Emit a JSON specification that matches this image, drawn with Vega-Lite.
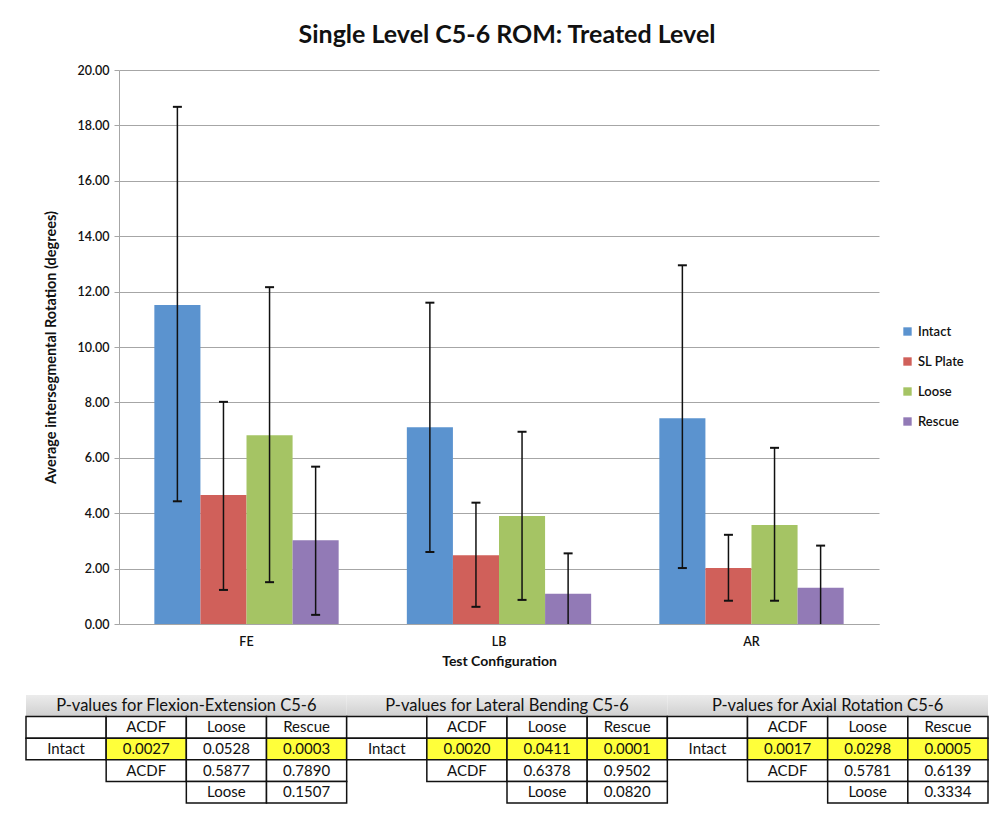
{
  "$schema": "https://vega.github.io/schema/vega-lite/v6.json",
  "background": "white",
  "padding": {"left": 25, "top": 23, "right": 3, "bottom": 5},
  "title": {"text": "Single Level C5-6 ROM: Treated Level", "fontSize": 25, "font": "Lato", "fontWeight": "bold", "anchor": "middle", "offset": 16, "color": "#111111"},
  "config": {"font": "Lato", "view": {"stroke": null}},
  "spacing": 26,
  "resolve": {"scale": {"xOffset": "independent", "x": "independent", "y": "independent"}},
  "datasets": {
    "bars": [
      {"test": "FE", "condition": "Intact", "mean": 11.52, "lo": 4.43, "hi": 18.67},
      {"test": "FE", "condition": "SL Plate", "mean": 4.66, "lo": 1.23, "hi": 8.02},
      {"test": "FE", "condition": "Loose", "mean": 6.81, "lo": 1.51, "hi": 12.16},
      {"test": "FE", "condition": "Rescue", "mean": 3.02, "lo": 0.33, "hi": 5.68},
      {"test": "LB", "condition": "Intact", "mean": 7.10, "lo": 2.60, "hi": 11.60},
      {"test": "LB", "condition": "SL Plate", "mean": 2.48, "lo": 0.62, "hi": 4.38},
      {"test": "LB", "condition": "Loose", "mean": 3.90, "lo": 0.87, "hi": 6.94},
      {"test": "LB", "condition": "Rescue", "mean": 1.09, "lo": -0.37, "hi": 2.55},
      {"test": "AR", "condition": "Intact", "mean": 7.43, "lo": 2.02, "hi": 12.95},
      {"test": "AR", "condition": "SL Plate", "mean": 2.02, "lo": 0.84, "hi": 3.22},
      {"test": "AR", "condition": "Loose", "mean": 3.57, "lo": 0.84, "hi": 6.36},
      {"test": "AR", "condition": "Rescue", "mean": 1.31, "lo": -0.21, "hi": 2.83}
    ],
    "headers": [
      {"table": "Flexion-Extension", "row": "r0", "title": "P-values for Flexion-Extension C5-6"},
      {"table": "Lateral Bending", "row": "r0", "title": "P-values for Lateral Bending C5-6"},
      {"table": "Axial Rotation", "row": "r0", "title": "P-values for Axial Rotation C5-6"}
    ],
    "cells": [
      {"table": "Flexion-Extension", "row": "r1", "col": "c0", "text": "", "sig": "no"},
      {"table": "Flexion-Extension", "row": "r1", "col": "c1", "text": "ACDF", "sig": "no"},
      {"table": "Flexion-Extension", "row": "r1", "col": "c2", "text": "Loose", "sig": "no"},
      {"table": "Flexion-Extension", "row": "r1", "col": "c3", "text": "Rescue", "sig": "no"},
      {"table": "Flexion-Extension", "row": "r2", "col": "c0", "text": "Intact", "sig": "no"},
      {"table": "Flexion-Extension", "row": "r2", "col": "c1", "text": "0.0027", "sig": "yes"},
      {"table": "Flexion-Extension", "row": "r2", "col": "c2", "text": "0.0528", "sig": "no"},
      {"table": "Flexion-Extension", "row": "r2", "col": "c3", "text": "0.0003", "sig": "yes"},
      {"table": "Flexion-Extension", "row": "r3", "col": "c1", "text": "ACDF", "sig": "no"},
      {"table": "Flexion-Extension", "row": "r3", "col": "c2", "text": "0.5877", "sig": "no"},
      {"table": "Flexion-Extension", "row": "r3", "col": "c3", "text": "0.7890", "sig": "no"},
      {"table": "Flexion-Extension", "row": "r4", "col": "c2", "text": "Loose", "sig": "no"},
      {"table": "Flexion-Extension", "row": "r4", "col": "c3", "text": "0.1507", "sig": "no"},
      {"table": "Lateral Bending", "row": "r1", "col": "c0", "text": "", "sig": "no"},
      {"table": "Lateral Bending", "row": "r1", "col": "c1", "text": "ACDF", "sig": "no"},
      {"table": "Lateral Bending", "row": "r1", "col": "c2", "text": "Loose", "sig": "no"},
      {"table": "Lateral Bending", "row": "r1", "col": "c3", "text": "Rescue", "sig": "no"},
      {"table": "Lateral Bending", "row": "r2", "col": "c0", "text": "Intact", "sig": "no"},
      {"table": "Lateral Bending", "row": "r2", "col": "c1", "text": "0.0020", "sig": "yes"},
      {"table": "Lateral Bending", "row": "r2", "col": "c2", "text": "0.0411", "sig": "yes"},
      {"table": "Lateral Bending", "row": "r2", "col": "c3", "text": "0.0001", "sig": "yes"},
      {"table": "Lateral Bending", "row": "r3", "col": "c1", "text": "ACDF", "sig": "no"},
      {"table": "Lateral Bending", "row": "r3", "col": "c2", "text": "0.6378", "sig": "no"},
      {"table": "Lateral Bending", "row": "r3", "col": "c3", "text": "0.9502", "sig": "no"},
      {"table": "Lateral Bending", "row": "r4", "col": "c2", "text": "Loose", "sig": "no"},
      {"table": "Lateral Bending", "row": "r4", "col": "c3", "text": "0.0820", "sig": "no"},
      {"table": "Axial Rotation", "row": "r1", "col": "c0", "text": "", "sig": "no"},
      {"table": "Axial Rotation", "row": "r1", "col": "c1", "text": "ACDF", "sig": "no"},
      {"table": "Axial Rotation", "row": "r1", "col": "c2", "text": "Loose", "sig": "no"},
      {"table": "Axial Rotation", "row": "r1", "col": "c3", "text": "Rescue", "sig": "no"},
      {"table": "Axial Rotation", "row": "r2", "col": "c0", "text": "Intact", "sig": "no"},
      {"table": "Axial Rotation", "row": "r2", "col": "c1", "text": "0.0017", "sig": "yes"},
      {"table": "Axial Rotation", "row": "r2", "col": "c2", "text": "0.0298", "sig": "yes"},
      {"table": "Axial Rotation", "row": "r2", "col": "c3", "text": "0.0005", "sig": "yes"},
      {"table": "Axial Rotation", "row": "r3", "col": "c1", "text": "ACDF", "sig": "no"},
      {"table": "Axial Rotation", "row": "r3", "col": "c2", "text": "0.5781", "sig": "no"},
      {"table": "Axial Rotation", "row": "r3", "col": "c3", "text": "0.6139", "sig": "no"},
      {"table": "Axial Rotation", "row": "r4", "col": "c2", "text": "Loose", "sig": "no"},
      {"table": "Axial Rotation", "row": "r4", "col": "c3", "text": "0.3334", "sig": "no"}
    ]
  },
  "vconcat": [
    {
      "width": 760,
      "height": 554,
      "data": {"name": "bars"},
      "encoding": {
        "x": {"field": "test", "type": "nominal", "sort": ["FE", "LB", "AR"],
              "scale": {"domain": ["FE", "LB", "AR"], "paddingInner": 0.27, "paddingOuter": 0.14},
              "axis": {"title": "Test Configuration", "titleFontWeight": "bold", "titleFontSize": 14, "titleColor": "#111111", "titlePadding": 7,
                       "labelFontSize": 12.5, "labelFontWeight": 600, "labelColor": "#111111", "labelAngle": 0, "labelPadding": 11, "ticks": false, "domainColor": "#a6a6a6"}},
        "xOffset": {"field": "condition", "type": "nominal", "sort": ["Intact", "SL Plate", "Loose", "Rescue"],
                    "scale": {"domain": ["Intact", "SL Plate", "Loose", "Rescue"], "paddingInner": 0, "paddingOuter": 0}}
      },
      "layer": [
        {
          "mark": {"type": "bar"},
          "encoding": {
            "y": {"field": "mean", "type": "quantitative", "scale": {"domain": [0, 20], "nice": false},
                  "title": "Average intersegmental Rotation (degrees)",
                  "axis": {"values": [0, 2, 4, 6, 8, 10, 12, 14, 16, 18, 20], "format": ".2f", "labelFontSize": 12.5, "labelFontWeight": 600, "labelColor": "#111111",
                           "tickColor": "#a6a6a6", "tickSize": 5, "domainColor": "#a6a6a6", "gridColor": "#a6a6a6", "gridOpacity": 1,
                           "titleFontSize": 14.5, "titleFontWeight": "bold", "titleColor": "#111111", "titlePadding": 19, "labelPadding": 5}},
            "color": {"field": "condition", "type": "nominal",
                      "scale": {"domain": ["Intact", "SL Plate", "Loose", "Rescue"], "range": ["#5b93cf", "#d0605a", "#a5c464", "#927ab6"]},
                      "legend": {"title": null, "orient": "none", "legendX": 782, "legendY": 255, "symbolType": "square", "symbolSize": 70,
                                 "labelFontSize": 13, "labelFontWeight": 600, "labelColor": "#111111", "rowPadding": 16, "labelOffset": 4}}
          }
        },
        {
          "mark": {"type": "rule", "clip": true, "strokeWidth": 1.5, "color": "#111111"},
          "encoding": {
            "y": {"field": "lo", "type": "quantitative", "title": "Average intersegmental Rotation (degrees)"},
            "y2": {"field": "hi"}
          }
        },
        {
          "mark": {"type": "tick", "color": "#111111", "size": 9, "thickness": 2, "opacity": 1},
          "encoding": {
            "y": {"field": "hi", "type": "quantitative", "title": "Average intersegmental Rotation (degrees)"}
          }
        },
        {
          "mark": {"type": "tick", "clip": true, "color": "#111111", "size": 9, "thickness": 2, "opacity": 1},
          "encoding": {
            "y": {"field": "lo", "type": "quantitative", "title": "Average intersegmental Rotation (degrees)"}
          }
        }
      ]
    },
    {
      "width": 760,
      "height": 108,
      "encoding": {
        "x": {"field": "table", "type": "nominal", "sort": ["Flexion-Extension", "Lateral Bending", "Axial Rotation"],
              "scale": {"domain": ["Flexion-Extension", "Lateral Bending", "Axial Rotation"], "range": [-93, 869], "paddingInner": 0, "paddingOuter": 0}, "axis": null},
        "y": {"field": "row", "type": "nominal", "sort": ["r0", "r1", "r2", "r3", "r4"],
              "scale": {"domain": ["r0", "r1", "r2", "r3", "r4"], "paddingInner": 0, "paddingOuter": 0}, "axis": null}
      },
      "layer": [
        {
          "data": {"name": "headers"},
          "mark": {"type": "rect", "fill": {"gradient": "linear", "x1": 0, "y1": 0, "x2": 0, "y2": 1, "stops": [{"offset": 0, "color": "#ececec"}, {"offset": 1, "color": "#cfcfcf"}]}}
        },
        {
          "data": {"name": "headers"},
          "mark": {"type": "text", "fontSize": 16.5, "color": "#111111"},
          "encoding": {"text": {"field": "title"}}
        },
        {
          "data": {"name": "cells"},
          "mark": {"type": "rect", "stroke": "#111111", "strokeWidth": 1.5},
          "encoding": {
            "xOffset": {"field": "col", "type": "nominal", "sort": ["c0", "c1", "c2", "c3"], "scale": {"domain": ["c0", "c1", "c2", "c3"], "paddingInner": 0, "paddingOuter": 0}},
            "fill": {"field": "sig", "type": "nominal", "scale": {"domain": ["yes", "no"], "range": ["#ffff3a", "#ffffff"]}, "legend": null}
          }
        },
        {
          "data": {"name": "cells"},
          "mark": {"type": "text", "fontSize": 15, "color": "#111111"},
          "encoding": {
            "xOffset": {"field": "col", "type": "nominal", "sort": ["c0", "c1", "c2", "c3"], "scale": {"domain": ["c0", "c1", "c2", "c3"], "paddingInner": 0, "paddingOuter": 0}},
            "text": {"field": "text"}
          }
        }
      ]
    }
  ]
}
